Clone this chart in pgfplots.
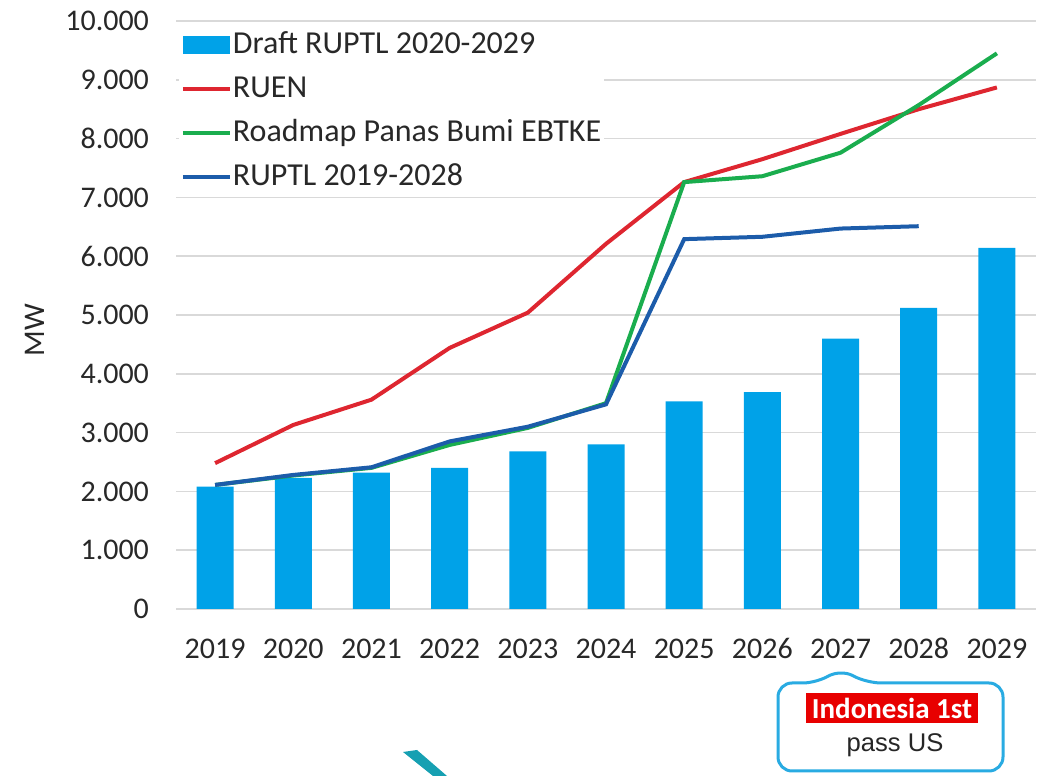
\documentclass[border=0pt]{standalone}
\usepackage{fontspec}
\setmainfont{Carlito}
\newfontfamily\arialf{Liberation Sans}
\usepackage{pgfplots}
\pgfplotsset{compat=1.18}
\definecolor{barblue}{RGB}{0,162,232}
\definecolor{ruen}{RGB}{222,38,48}
\definecolor{roadmap}{RGB}{26,173,78}
\definecolor{ruptl}{RGB}{28,92,170}
\definecolor{gridgray}{RGB}{217,217,217}
\definecolor{callout}{RGB}{41,171,226}
\definecolor{tealc}{RGB}{22,160,178}
\definecolor{tickgray}{RGB}{40,40,40}
\definecolor{labelred}{RGB}{232,0,0}
\begin{document}
\begin{tikzpicture}[x=1pt,y=1pt]
\path[use as bounding box] (0,0) rectangle (520,388);
\begin{axis}[
  at={(88pt,83.5pt)}, anchor=south west,
  scale only axis, width=430pt, height=294pt,
  xmin=-0.5, xmax=10.5, ymin=0, ymax=10000,
  xtick={0,1,2,3,4,5,6,7,8,9,10},
  xticklabels={2019,2020,2021,2022,2023,2024,2025,2026,2027,2028,2029},
  ytick={0,1000,2000,3000,4000,5000,6000,7000,8000,9000,10000},
  /pgf/number format/.cd, 1000 sep={.}, assume math mode=true, /pgfplots/.cd,
  scaled y ticks=false,
  axis line style={draw=none},
  major tick length=0pt,
  ymajorgrids, grid style={gridgray, line width=0.8pt},
  ticklabel style={font=\fontsize{15}{18}\selectfont, text=tickgray},
  yticklabel style={anchor=east, xshift=-10pt},
  xticklabel style={anchor=north, yshift=-11pt, text height=10pt, text depth=2pt},
  ylabel={MW},
  every axis y label/.style={at={(axis description cs:-0.164,0.474)}, rotate=90, anchor=center, font=\fontsize{15}{18}\selectfont, text=tickgray},
  legend cell align=left,
  legend style={at={(axis description cs:0.003,0.99)}, anchor=north west, draw=none, fill=white, inner sep=1pt, row sep=6pt,
    font=\fontsize{16}{18}\selectfont, text=tickgray,
    nodes={inner sep=0.5pt, text height=11.5pt, text depth=3.5pt}},
  legend image code/.code={\draw[#1, line width=2pt] (0pt,0pt) -- (23.5pt,0pt);},
]
\addplot[ybar, bar width=18.5pt, fill=barblue, draw=none,
  legend image code/.code={\fill[barblue] (0pt,-4.5pt) rectangle (23.5pt,4.5pt);}]
  coordinates {(0,2080) (1,2230) (2,2320) (3,2400) (4,2680) (5,2800) (6,3530) (7,3690) (8,4600) (9,5120) (10,6140)};
\addlegendentry{Draft RUPTL 2020-2029}
\addplot[ruen, line width=2pt]
  coordinates {(0,2480) (1,3130) (2,3560) (3,4440) (4,5040) (5,6210) (6,7260) (7,7650) (8,8080) (9,8500) (10,8870)};
\addlegendentry{RUEN}
\addplot[roadmap, line width=2pt]
  coordinates {(0,2110) (1,2270) (2,2400) (3,2790) (4,3080) (5,3500) (6,7260) (7,7360) (8,7760) (9,8570) (10,9450)};
\addlegendentry{Roadmap Panas Bumi EBTKE}
\addplot[ruptl, line width=2pt]
  coordinates {(0,2110) (1,2280) (2,2410) (3,2850) (4,3100) (5,3480) (6,6290) (7,6330) (8,6470) (9,6510)};
\addlegendentry{RUPTL 2019-2028}
\end{axis}
% callout
\draw[callout, line width=1.5pt, rounded corners=7pt, fill=white]
  (389,2.5) -- (389,46.5) -- (408.5,46.5) -- (420,53.5) -- (433.5,46.5) -- (501.5,46.5) -- (501.5,2.5) -- cycle;
\fill[labelred] (403,26.5) rectangle (489,41.5);
\node[text=white, font=\fontsize{14.5}{16}\selectfont\bfseries] at (446,34) {Indonesia 1st};
\node[text=black!85, font=\arialf\fontsize{12.8}{15}\selectfont] at (447.5,15.5) {pass US};
% decorative teal fragment
\fill[tealc] (201.5,12) -- (208.5,13) -- (223.5,0) -- (216.5,0) -- cycle;
\end{tikzpicture}
\end{document}
